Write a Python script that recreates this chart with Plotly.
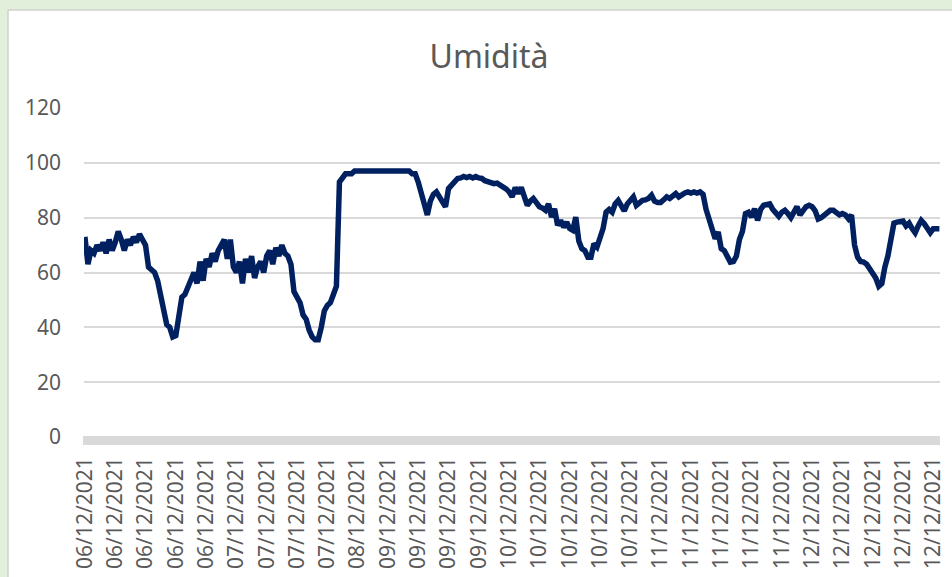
import plotly.graph_objects as go

title_text = "Umidità"

humidity = [
    73, 63, 68, 67, 70, 68, 71, 67, 72, 68,
    71, 75, 72, 68, 72, 70, 73, 71, 74, 72,
    70, 62, 61, 60, 57, 52, 45, 41, 40, 36.5,
    37, 45, 51, 52, 55, 57, 60, 56, 64, 57,
    65, 62, 67, 64, 68, 70, 72, 65, 72, 62,
    60, 64, 56, 65, 60, 66, 58, 62, 64, 60,
    66, 68, 63, 69, 66, 70, 67, 66, 63, 53,
    51, 49, 44.5, 43, 39, 36.5, 35.5, 35.5, 40, 46,
    48, 49, 52, 55, 93, 94.5, 96, 96, 96, 97,
    97, 97, 97, 97, 97, 97, 97, 97, 97, 97,
    97, 97, 97, 97, 97, 97, 97, 97, 96, 96,
    93, 88, 85, 81, 86, 88.5, 89.4, 87.6, 86, 84,
    90.6, 92, 93, 94.3, 94.5, 95, 94.6, 95, 94.5, 95,
    94.5, 94.3, 93.5, 93, 92.6, 92.4, 92.6, 92, 91, 90.5,
    89.4, 87.6, 91, 88.8, 91, 87, 84.5, 86, 87, 85.5,
    84, 83.5, 82.7, 85, 80.2, 83.3, 77.2, 79, 76.5, 78.4,
    76, 75.4, 80.2, 71.5, 68.7, 68, 65.6, 65.6, 70.5, 69.3,
    73, 76, 82, 83, 82, 85, 86.3, 84, 82.5, 85,
    86.5, 87.6, 84.5, 85.5, 86.3, 86.5, 87, 88.2, 86, 85.5,
    85.5, 86.5, 87.6, 87, 88, 88.8, 87.6, 88.5, 89, 89.4,
    89, 89.4, 89, 89.4, 88.5, 83, 79, 75, 72.3, 74.8,
    68.7, 68, 66.2, 63.8, 64, 66, 72, 75, 81.5, 82,
    80.2, 83.3, 79, 83, 84.5, 85, 85, 83, 81.5, 80.5,
    82, 82.7, 81.5, 80, 82, 84, 81, 82.5, 84, 84.5,
    84, 82.5, 79.5, 80, 81, 82, 82.7, 82.7, 82, 81,
    81.5, 81, 79.6, 81, 70, 65.6, 64, 63.8, 63, 61.5,
    60, 58, 55, 56, 62, 66, 72, 78, 78.4, 78.4,
    78.8, 77, 78, 76, 74.5, 77, 79, 77.8, 76, 74.5,
    76, 76, 76,
]

tick_labels = [
    "06/12/2021", "06/12/2021", "06/12/2021", "06/12/2021", "06/12/2021",
    "07/12/2021", "07/12/2021", "07/12/2021", "07/12/2021",
    "08/12/2021",
    "09/12/2021", "09/12/2021", "09/12/2021", "09/12/2021",
    "10/12/2021", "10/12/2021", "10/12/2021", "10/12/2021", "10/12/2021",
    "11/12/2021", "11/12/2021", "11/12/2021", "11/12/2021", "11/12/2021",
    "12/12/2021", "12/12/2021", "12/12/2021", "12/12/2021", "12/12/2021",
]
label_step = 10

x_idx = list(range(len(humidity)))
tick_vals = [i * label_step for i in range(len(tick_labels))]

W, H = 952, 577
ML, MR, MT, MB = 84, 12, 108, 140
PW, PH = W - ML - MR, H - MT - MB

def px_x(px):
    return (px - ML) / PW

def px_y(py):
    return (H - MB - py) / PH

FONT = "Noto Sans"
TXT = "#595959"

fig = go.Figure()
fig.add_trace(go.Scatter(
    x=x_idx, y=humidity, mode="lines",
    line=dict(color="#002060", width=5.5),
    hoverinfo="skip", showlegend=False,
))

fig.update_layout(
    width=W, height=H,
    margin=dict(l=ML, r=MR, t=MT, b=MB, pad=0, autoexpand=False),
    paper_bgcolor="#e2efda",
    plot_bgcolor="rgba(0,0,0,0)",
    font=dict(family=FONT, color=TXT),
    title=dict(text=title_text, x=489 / W, xref="container", xanchor="center",
               y=1 - 57 / H, yref="container", yanchor="middle",
               font=dict(family=FONT, size=32, color=TXT)),
    xaxis=dict(
        range=[-0.3, 282.2], tickmode="array", tickvals=tick_vals, ticktext=tick_labels,
        tickangle=-90, showgrid=False, zeroline=False, showline=False, ticks="",
        tickfont=dict(family=FONT, size=21, color=TXT), ticklabelstandoff=15,
        fixedrange=True, automargin=False,
    ),
    yaxis=dict(
        range=[0, 120], tickvals=[0, 20, 40, 60, 80, 100, 120],
        showgrid=True, gridcolor="#d9d9d9", gridwidth=1.5, zeroline=False,
        showline=False, ticks="", tickfont=dict(family=FONT, size=21, color=TXT),
        ticklabelstandoff=22, fixedrange=True, automargin=False,
    ),
    shapes=[
        dict(type="rect", xref="paper", yref="paper", layer="below",
             x0=px_x(8), x1=px_x(1000), y0=px_y(700), y1=px_y(10),
             fillcolor="white", line=dict(color="#d0d0d0", width=1.5)),
        dict(type="rect", xref="paper", yref="paper", layer="above",
             x0=px_x(83), x1=px_x(940), y0=px_y(445), y1=px_y(436),
             fillcolor="#d9d9d9", line=dict(width=0)),
    ],
)

fig.write_html(
    "out.html",
    config={"displayModeBar": False, "responsive": False},
    post_script="document.body.style.margin='0';document.body.style.padding='0';"
                "document.body.style.overflow='hidden';"
                "document.body.style.background='#e2efda';",
)
